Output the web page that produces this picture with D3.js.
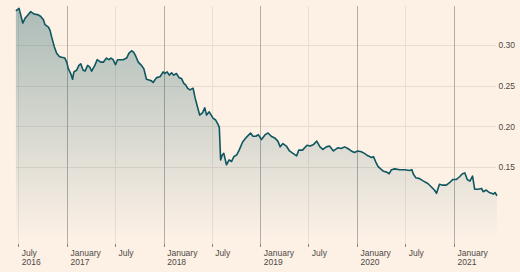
<!DOCTYPE html>
<html><head><meta charset="utf-8">
<script src="https://cdn.jsdelivr.net/npm/d3@7"></script>
<style>
html,body{margin:0;padding:0;background:#fdf1e6;}
svg{display:block;}
text{font-family:"Liberation Sans",Arial,sans-serif;}
</style></head><body>
<svg id="c" width="520" height="272"></svg>
<script>
const dates = ["2016-06-22","2016-07-04","2016-07-18","2016-07-27","2016-08-04","2016-08-17","2016-08-30","2016-09-15","2016-09-24","2016-10-04","2016-10-10","2016-10-23","2016-10-29","2016-11-04","2016-11-14","2016-11-23","2016-12-03","2016-12-12","2016-12-24","2016-12-31",
"2017-01-06","2017-01-15","2017-01-22","2017-01-27","2017-02-06","2017-02-15","2017-02-22","2017-03-03","2017-03-10","2017-03-20","2017-03-28","2017-04-04","2017-04-16","2017-04-25","2017-05-08","2017-05-18","2017-05-30","2017-06-08","2017-06-16","2017-06-24","2017-07-03","2017-07-11","2017-08-01","2017-08-14","2017-08-23","2017-09-02","2017-09-10","2017-09-18","2017-09-27","2017-10-09","2017-10-18","2017-10-28","2017-11-07","2017-11-16","2017-11-22","2017-12-05","2017-12-18","2017-12-30",
"2018-01-05","2018-01-14","2018-01-22","2018-01-31","2018-02-08","2018-02-18","2018-02-28","2018-03-09","2018-03-18","2018-03-25","2018-04-01","2018-04-10","2018-04-22","2018-04-29","2018-05-07","2018-05-17","2018-05-28","2018-06-05","2018-06-12","2018-06-22","2018-07-07","2018-07-16","2018-07-26","2018-07-30","2018-08-04","2018-08-10","2018-08-16","2018-08-26","2018-09-05","2018-09-14","2018-09-23","2018-10-03","2018-10-13","2018-10-26","2018-11-10","2018-11-25","2018-12-04","2018-12-15","2018-12-24",
"2019-01-05","2019-01-19","2019-01-30","2019-02-11","2019-02-24","2019-03-08","2019-03-17","2019-03-27","2019-04-09","2019-04-21","2019-05-04","2019-05-18","2019-05-26","2019-06-09","2019-06-26","2019-07-08","2019-07-21","2019-08-02","2019-08-14","2019-08-25","2019-09-07","2019-09-19","2019-10-04","2019-10-21","2019-11-02","2019-11-15","2019-11-27","2019-12-10","2019-12-22",
"2020-01-04","2020-01-17","2020-01-29","2020-02-11","2020-02-25","2020-03-03","2020-03-11","2020-03-20","2020-03-30","2020-04-10","2020-04-22","2020-05-01","2020-05-10","2020-05-22","2020-06-10","2020-06-29","2020-07-18","2020-07-26","2020-07-31","2020-08-10","2020-08-24","2020-09-08","2020-09-24","2020-10-04","2020-10-19","2020-10-27","2020-11-07","2020-11-20","2020-12-03","2020-12-15","2020-12-28",
"2021-01-10","2021-01-21","2021-02-02","2021-02-11","2021-02-20","2021-03-02","2021-03-12","2021-03-20","2021-04-02","2021-04-15","2021-04-21","2021-05-03","2021-05-14","2021-05-23","2021-05-29","2021-06-05","2021-06-12"];
const values = [0.342,0.345,0.327,0.333,0.336,0.341,0.338,0.337,0.335,0.331,0.325,0.322,0.318,0.310,0.298,0.290,0.286,0.285,0.284,0.279,
0.271,0.265,0.258,0.267,0.269,0.275,0.277,0.269,0.268,0.275,0.273,0.268,0.275,0.282,0.279,0.279,0.284,0.282,0.284,0.282,0.276,0.282,0.282,0.284,0.290,0.293,0.291,0.286,0.279,0.275,0.271,0.258,0.257,0.256,0.254,0.260,0.261,0.267,
0.265,0.267,0.263,0.266,0.263,0.265,0.260,0.259,0.253,0.251,0.247,0.245,0.247,0.236,0.226,0.214,0.217,0.223,0.214,0.218,0.210,0.208,0.202,0.199,0.159,0.165,0.167,0.153,0.159,0.157,0.163,0.165,0.171,0.181,0.187,0.192,0.188,0.188,0.190,
0.184,0.190,0.192,0.188,0.186,0.182,0.175,0.179,0.176,0.170,0.167,0.164,0.171,0.171,0.177,0.176,0.178,0.182,0.175,0.172,0.175,0.176,0.170,0.174,0.173,0.175,0.173,0.170,0.168,
0.170,0.169,0.167,0.164,0.162,0.163,0.157,0.151,0.148,0.145,0.144,0.142,0.147,0.148,0.147,0.147,0.146,0.147,0.142,0.137,0.136,0.133,0.130,0.127,0.122,0.118,0.129,0.128,0.128,0.131,0.135,
0.135,0.138,0.142,0.143,0.135,0.133,0.139,0.123,0.123,0.124,0.120,0.122,0.119,0.118,0.117,0.119,0.115];
const xTicks = ["2016-07-01","2017-01-01","2017-07-01","2018-01-01","2018-07-01","2019-01-01","2019-07-01","2020-01-01","2020-07-01","2021-01-01"];
const xTickMonths = ["July","January","July","January","July","January","July","January","July","January"];
const xTickYears = ["2016","2017","","2018","","2019","","2020","","2021"];
const yTicks = [0.15,0.20,0.25,0.30];
const yDomain = [0.05,0.35];

const parse = d3.timeParse("%Y-%m-%d");
const data = dates.map((d,i)=>({date:parse(d), value:values[i]}));
const svg = d3.select("#c");
const pTop = 6, pBottom = 247, pLeft = 16, pRight = 496;

const x = d3.scaleTime().domain([parse("2017-01-01"), parse("2021-01-01")]).range([67, 454]);
const y = d3.scaleLinear().domain(yDomain).range([248.7, 4.3]);

const defs = svg.append("defs");
const grad = defs.append("linearGradient").attr("id","g").attr("gradientUnits","userSpaceOnUse")
  .attr("x1",0).attr("x2",0).attr("y1",0).attr("y2",240);
grad.append("stop").attr("offset","0").attr("stop-color","#14575f").attr("stop-opacity",0.36);
grad.append("stop").attr("offset","1").attr("stop-color","#14575f").attr("stop-opacity",0);

// horizontal grid
svg.append("g").selectAll("line").data(yTicks).join("line")
  .attr("x1",pLeft).attr("x2",pRight).attr("y1",d=>Math.round(y(d))+0.5).attr("y2",d=>Math.round(y(d))+0.5)
  .attr("stroke","#e9dccf").attr("stroke-width",1);

// vertical grid
const xt = xTicks.map(parse);
svg.append("g").selectAll("line").data(xt).join("line")
  .attr("x1",d=>Math.round(x(d))+0.5).attr("x2",d=>Math.round(x(d))+0.5)
  .attr("y1",pTop).attr("y2",pBottom)
  .attr("stroke",(d,i)=>xTickMonths[i]==="January"?"#b5ada5":"#ebdfd3").attr("stroke-width",1);
// small ticks
svg.append("g").selectAll("line").data(xt).join("line")
  .attr("x1",d=>Math.round(x(d))+0.5).attr("x2",d=>Math.round(x(d))+0.5)
  .attr("y1",pBottom-3).attr("y2",pBottom)
  .attr("stroke","#8c8580").attr("stroke-width",1);

// area + line
const area = d3.area().x(d=>x(d.date)).y0(y(yDomain[0])).y1(d=>y(d.value));
svg.append("path").datum(data).attr("d",area).attr("fill","url(#g)");
const line = d3.line().x(d=>x(d.date)).y(d=>y(d.value));
svg.append("path").datum(data).attr("d",line).attr("fill","none")
  .attr("stroke","#0e5660").attr("stroke-width",1.6).attr("stroke-linejoin","round");

// x labels
const xl = svg.append("g").selectAll("text").data(xt).join("text")
  .attr("font-size",8.5).attr("fill","#4d4845");
xl.append("tspan").attr("x",d=>x(d)+3.5).attr("y",255.5).text((d,i)=>xTickMonths[i]);
xl.append("tspan").attr("x",d=>x(d)+3.5).attr("y",265).text((d,i)=>xTickYears[i]);

// y labels
svg.append("g").selectAll("text").data(yTicks).join("text")
  .attr("x",515).attr("y",d=>y(d)+3).attr("text-anchor","end")
  .attr("font-size",8.5).attr("fill","#4d4845").text(d=>d3.format(".2f")(d));
</script>
</body></html>
